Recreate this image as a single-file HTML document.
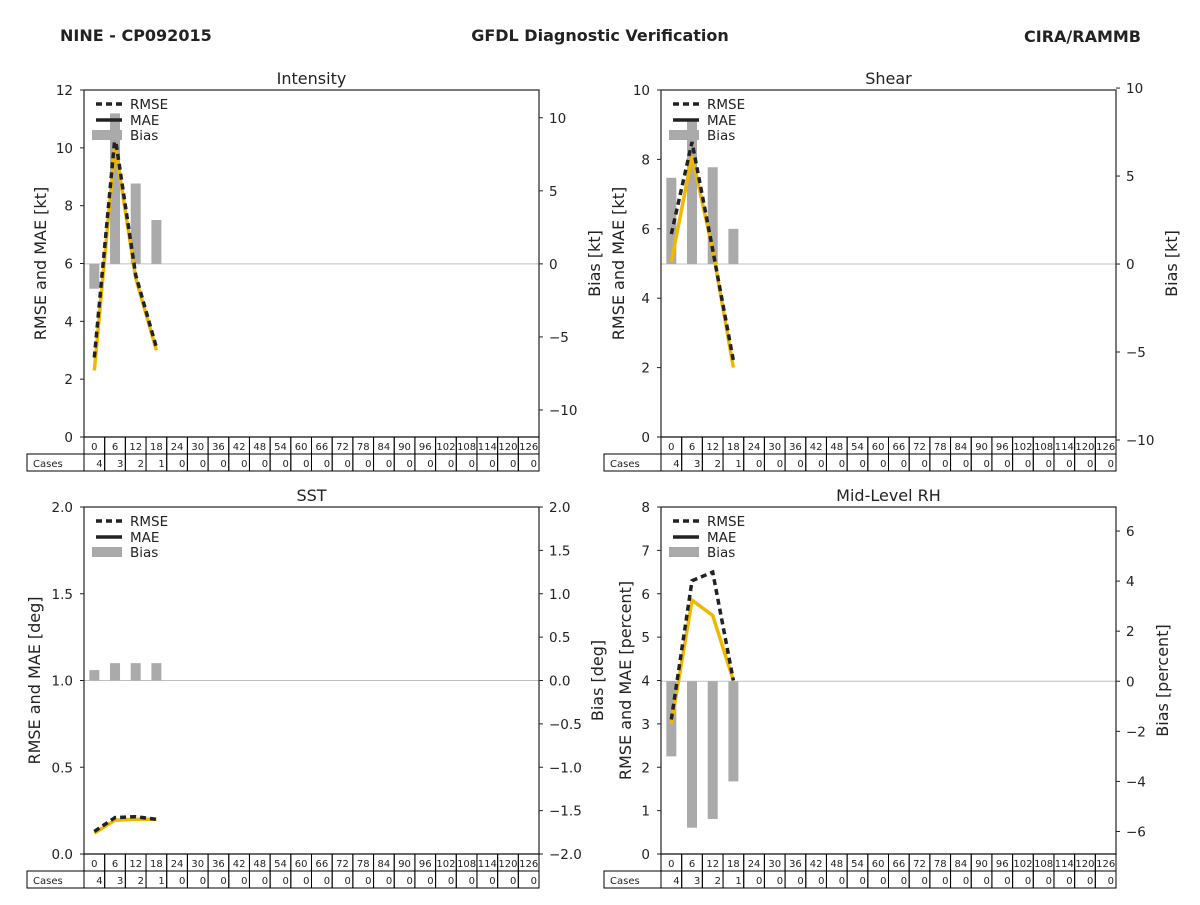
<!DOCTYPE html>
<html><head><meta charset="utf-8"><style>
body{margin:0;background:#fff;font-family:"Liberation Sans","DejaVu Sans",sans-serif}
</style></head><body>
<svg id="c" width="1200" height="900" xmlns="http://www.w3.org/2000/svg" font-family="DejaVu Sans, Liberation Sans, sans-serif">
<text x="60" y="41" font-size="16" font-weight="bold" fill="#222">NINE - CP092015</text>
<text x="600" y="41" font-size="16" font-weight="bold" fill="#222" text-anchor="middle">GFDL Diagnostic Verification</text>
<text x="1141" y="42" font-size="16" font-weight="bold" fill="#222" text-anchor="end">CIRA/RAMMB</text>
</svg>
<script>
const hours=[0,6,12,18,24,30,36,42,48,54,60,66,72,78,84,90,96,102,108,114,120,126];
const cases=[4,3,2,1,0,0,0,0,0,0,0,0,0,0,0,0,0,0,0,0,0,0];
const intRmse=[2.75,10.4,5.6,3.1];
const intMae=[2.3,10.1,5.5,3.0];
const intBias=[-1.7,10.3,5.5,3.0];
const shrRmse=[5.85,8.5,5.4,2.2];
const shrMae=[5.05,8.1,5.4,2.0];
const shrBias=[4.9,8.2,5.5,2.0];
const sstRmse=[0.13,0.21,0.215,0.2];
const sstMae=[0.12,0.195,0.2,0.2];
const sstBias=[0.12,0.2,0.2,0.2];
const rhRmse=[3.1,6.3,6.5,4.0];
const rhMae=[3.0,5.85,5.5,4.0];
const rhBias=[-3.0,-5.85,-5.5,-4.0];
const intLeftTicks=[0,2,4,6,8,10,12];
const intRightTicks=[10,5,0,-5,-10];
const shrLeftTicks=[0,2,4,6,8,10];
const shrRightTicks=[10,5,0,-5,-10];
const sstLeftTicks=[0,0.5,1.0,1.5,2.0];
const sstRightTicks=[2.0,1.5,1.0,0.5,0.0,-0.5,-1.0,-1.5,-2.0];
const rhLeftTicks=[0,1,2,3,4,5,6,7,8];
const rhRightTicks=[6,4,2,0,-2,-4,-6];

const svg=document.getElementById('c');
const NS='http://www.w3.org/2000/svg';
function mk(tag,attrs,name,parent){
  const e=document.createElementNS(NS,tag);
  for(const k in attrs)e.setAttribute(k,attrs[k]);
  
  
  (parent||svg).appendChild(e);return e;
}
function fmt(v,dec){const s=v.toFixed(dec);return s.replace('-','\u2212');}
function panel(p){
  const g=mk('g',{},p.key+'-panel');
  const x0=p.x,x1=p.x+455,y0=p.y,y1=p.y+347;
  const cw=(x1-x0)/hours.length;
  const xs=i=>x0+cw*(i+0.5);
  const yl=v=>y1-(v-p.lmin)/(p.lmax-p.lmin)*(y1-y0);
  const yr=v=>y1-(v-p.rmin)/(p.rmax-p.rmin)*(y1-y0);
  // zero line
  mk('line',{x1:x0,x2:x1,y1:yr(0),y2:yr(0),stroke:'#c0c0c0','stroke-width':1},p.key+'-zero-line',g);
  // bias bars
  p.bias.forEach((b,i)=>{const a=yr(0),c=yr(b);
    mk('rect',{x:xs(i)-5,y:Math.min(a,c),width:10,height:Math.abs(a-c),fill:'#aaaaaa'},p.key+'-bias-bar-'+hours[i],g);});
  const pts=arr=>arr.map((v,i)=>xs(i)+','+yl(v)).join(' ');
  mk('polyline',{points:pts(p.mae),fill:'none',stroke:'#f0b800','stroke-width':3.5},p.key+'-mae-line',g);
  mk('polyline',{points:pts(p.rmse),fill:'none',stroke:'#222','stroke-width':3.5,'stroke-dasharray':'6,4'},p.key+'-rmse-line',g);
  // frame
  mk('rect',{x:x0,y:y0,width:455,height:347,fill:'none',stroke:'#222','stroke-width':1.2},p.key+'-plot-frame',g);
  // title
  const t=mk('text',{x:(x0+x1)/2,y:y0-6,'font-size':16,'text-anchor':'middle',fill:'#222'},p.key+'-title',g);t.textContent=p.title;
  // left ticks
  p.lt.forEach(v=>{const y=yl(v);
    mk('line',{x1:x0-4,x2:x0,y1:y,y2:y,stroke:'#222'},p.key+'-left-tick',g);
    const tt=mk('text',{x:x0-11,y:y+5,'font-size':13.5,'text-anchor':'end',fill:'#222'},p.key+'-left-tick-label',g);tt.textContent=fmt(v,p.ld);});
  p.rt.forEach(v=>{const y=yr(v);
    mk('line',{x1:x1,x2:x1+4,y1:y,y2:y,stroke:'#222'},p.key+'-right-tick',g);
    const tt=mk('text',{x:x1+10,y:y+5,'font-size':13.5,fill:'#222'},p.key+'-right-tick-label',g);tt.textContent=fmt(v,p.rd);});
  let lab=mk('text',{transform:`translate(${p.llx},${(y0+y1)/2}) rotate(-90)`,'font-size':16,'text-anchor':'middle',fill:'#222'},p.key+'-left-axis-title',g);lab.textContent=p.ltitle;
  lab=mk('text',{transform:`translate(${p.rlx},${(y0+y1)/2}) rotate(-90)`,'font-size':16,'text-anchor':'middle',fill:'#222'},p.key+'-right-axis-title',g);lab.textContent=p.rtitle;
  // legend
  const lg=mk('g',{},p.key+'-legend',g);
  mk('line',{x1:x0+12,x2:x0+38,y1:y0+14,y2:y0+14,stroke:'#222','stroke-width':3.5,'stroke-dasharray':'6,4'},'legend-rmse-swatch',lg);
  mk('line',{x1:x0+12,x2:x0+38,y1:y0+30,y2:y0+30,stroke:'#222','stroke-width':3.5},'legend-mae-swatch',lg);
  mk('rect',{x:x0+8,y:y0+40,width:30,height:10,fill:'#aaaaaa'},'legend-bias-swatch',lg);
  [['RMSE',19],['MAE',35],['Bias',50]].forEach(a=>{const tt=mk('text',{x:x0+46,y:y0+a[1],'font-size':13.5,fill:'#222'},'legend-label',lg);tt.textContent=a[0];});
  // table
  const tb=mk('g',{},p.key+'-cases-table',g);
  mk('rect',{x:p.x-57,y:y1+17,width:57+455,height:17,fill:'none',stroke:'#000'},'cases-row',tb);
  let ct=mk('text',{x:p.x-51,y:y1+30,'font-size':10,fill:'#222'},'cases-label',tb);ct.textContent='Cases';
  hours.forEach((h,i)=>{const cx=x0+cw*i;
    mk('rect',{x:cx,y:y1,width:cw,height:17,fill:'none',stroke:'#000'},'hour-cell',tb);
    mk('rect',{x:cx,y:y1+17,width:cw,height:17,fill:'none',stroke:'#000'},'case-cell',tb);
    let a=mk('text',{x:cx+cw/2,y:y1+13,'font-size':10,'text-anchor':'middle',fill:'#222'},'hour-label',tb);a.textContent=h;
    a=mk('text',{x:cx+cw-2,y:y1+30,'font-size':10,'text-anchor':'end',fill:'#222'},'case-count',tb);a.textContent=cases[i];});
}
panel({key:'intensity',title:'Intensity',x:84,y:90,lmin:0,lmax:12,rmin:-11.85,rmax:11.9,lt:intLeftTicks,rt:intRightTicks,ld:0,rd:0,
  rmse:intRmse,mae:intMae,bias:intBias,ltitle:'RMSE and MAE [kt]',rtitle:'Bias [kt]',llx:46,rlx:600});
panel({key:'shear',title:'Shear',x:661,y:90,lmin:0,lmax:10,rmin:-9.83,rmax:9.89,lt:shrLeftTicks,rt:shrRightTicks,ld:0,rd:0,
  rmse:shrRmse,mae:shrMae,bias:shrBias,ltitle:'RMSE and MAE [kt]',rtitle:'Bias [kt]',llx:624,rlx:1177});
panel({key:'sst',title:'SST',x:84,y:507,lmin:0,lmax:2,rmin:-2,rmax:2,lt:sstLeftTicks,rt:sstRightTicks,ld:1,rd:1,
  rmse:sstRmse,mae:sstMae,bias:sstBias,ltitle:'RMSE and MAE [deg]',rtitle:'Bias [deg]',llx:40,rlx:603});
panel({key:'rh',title:'Mid-Level RH',x:661,y:507,lmin:0,lmax:8,rmin:-6.9,rmax:6.96,lt:rhLeftTicks,rt:rhRightTicks,ld:0,rd:0,
  rmse:rhRmse,mae:rhMae,bias:rhBias,ltitle:'RMSE and MAE [percent]',rtitle:'Bias [percent]',llx:631,rlx:1168});
</script>
</body></html>
